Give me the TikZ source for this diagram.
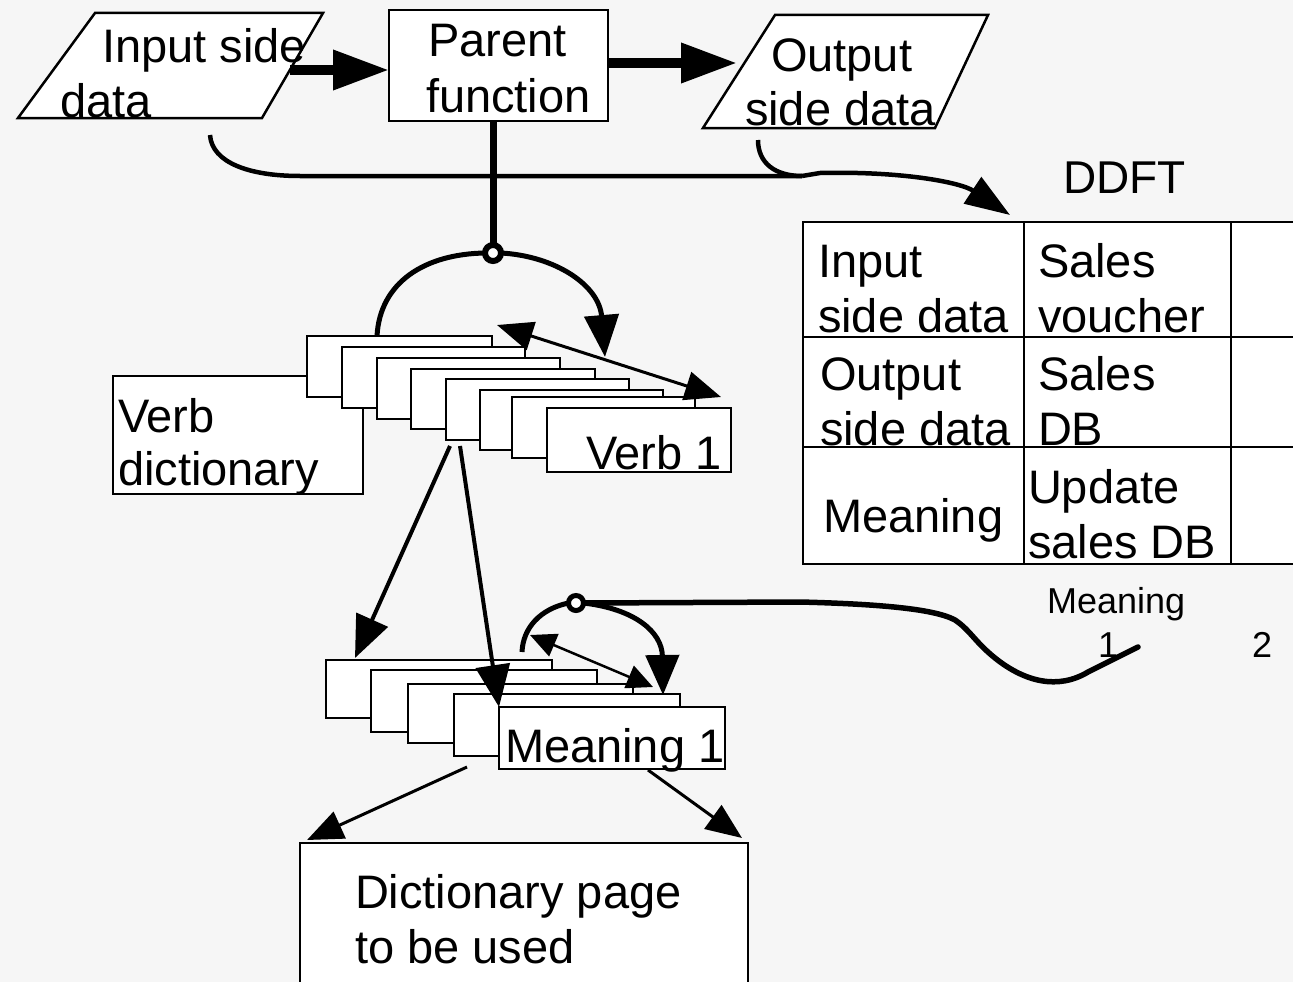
\documentclass[tikz,border=0pt]{standalone}
\usepackage{fontspec}
\setmainfont{Liberation Sans}
\usetikzlibrary{arrows.meta}
\begin{document}
\begin{tikzpicture}[x=1pt,y=-1pt,
  txt/.style={inner sep=0pt, outer sep=0pt, anchor=base west, font=\fontsize{47}{51}\selectfont},
  smalltxt/.style={inner sep=0pt, outer sep=0pt, anchor=base west, font=\fontsize{36}{40}\selectfont},
  frame/.style={draw=black, fill=white, line width=2.5pt, line join=miter},
  sheet/.style={draw=black, fill=white, line width=2.5pt, anchor=north west, inner sep=0pt, outer sep=0pt},
  hub/.style={circle, draw=black, fill=white, line width=6pt, minimum size=16pt, inner sep=0pt, outer sep=0pt},
  tipA/.tip={Triangle[length=56pt,width=38pt]},
  tipB/.tip={Triangle[length=42pt,width=34pt]},
  tipC/.tip={Triangle[length=36pt,width=29pt]},
  tipD/.tip={Triangle[length=26pt,width=24pt]},
  flowline/.style={line width=10pt, -{tipA}},
  feedline/.style={line width=4.5pt},
  arcline/.style={line width=5pt},
  linkline/.style={line width=4pt, -{tipB}},
  pickline/.style={line width=3pt, -{tipC}},
  bothway/.style={line width=3pt, {tipC}-{tipC}},
]
\useasboundingbox (0,0) rectangle (1293,982);
\fill[gray!7] (0,0) rectangle (1293,982);

% ---------- top row: input data, parent function, output data ----------
\draw[frame] (95,13) -- (323,13) -- (262,118) -- (18,118) -- cycle;
\node[txt] (inpA) at (102,63) {Input side};
\node[txt] (inpB) at (60,117) {data};
\coordinate (inpR) at (290,70);

\node[frame, minimum width=219pt, minimum height=111pt, inner sep=0pt, outer sep=0pt] (par) at (498.5,65.5) {};
\node[txt] (parA) at (428,57) {Parent};
\node[txt] (parB) at (426,112) {function};

\draw[frame] (775,15) -- (988,15) -- (935,128) -- (703,128) -- cycle;
\node[txt] (outA) at (771,72) {Output};
\node[txt] (outB) at (745,125) {side data};
\coordinate (outL) at (737,63);

\draw[flowline] (inpR) -- (inpR -| par.west);
\draw[flowline] (par.east |- outL) -- (outL);

% ---------- data feed into the table ----------
\coordinate (inHook) at (210,135);
\coordinate (outHook) at (758,140);
\coordinate (joint) at (802,176);
\coordinate (ddftIn) at (1010,215);
\draw[feedline] (inHook) .. controls (212,163) and (250,176) .. (300,176) -- (joint);
\draw[feedline] (outHook) .. controls (758,163) and (775,176) .. (joint);
\draw[feedline, -{Triangle[length=45pt,width=31pt]}] (joint) -- (820,173) .. controls (900,171) and (960,182) .. (ddftIn);

% ---------- DDFT table ----------
\node[txt, font=\fontsize{46}{50}\selectfont] (ddft) at (1063,193) {DDFT};
\begin{scope}[line width=2.5pt]
  \fill[white] (803,222) rectangle (1300,564);
  \draw (1300,222) -- (803,222) -- (803,564) -- (1300,564);
  \draw (1024,222) -- (1024,564);
  \draw (1231,222) -- (1231,564);
  \draw (803,337) -- (1300,337);
  \draw (803,447) -- (1300,447);
\end{scope}
\node[txt] (t11a) at (818,277) {Input};
\node[txt] (t11b) at (818,332) {side data};
\node[txt] (t12a) at (1038,277) {Sales};
\node[txt] (t12b) at (1038,332) {voucher};
\node[txt] (t21a) at (820,390) {Output};
\node[txt] (t21b) at (820,445) {side data};
\node[txt] (t22a) at (1038,390) {Sales};
\node[txt] (t22b) at (1038,445) {DB};
\node[txt] (t31) at (823,532) {Meaning};
\node[txt] (t32a) at (1028,503) {Update};
\node[txt] (t32b) at (1028,558) {sales DB};

% ---------- verb dictionary ----------
\node[sheet, minimum width=250pt, minimum height=118pt] (vd) at (113,376) {};
\node[sheet, minimum width=185pt, minimum height=61pt] (v1) at (307,336) {};
\node[sheet, minimum width=183pt, minimum height=61pt] (v2) at (342,347) {};
\node[sheet, minimum width=183pt, minimum height=61pt] (v3) at (377,358) {};
\node[sheet, minimum width=184pt, minimum height=60pt] (v4) at (411,369) {};
\node[sheet, minimum width=183pt, minimum height=61pt] (v5) at (446,379) {};
\node[sheet, minimum width=183pt, minimum height=60pt] (v6) at (480,390) {};
\node[sheet, minimum width=183pt, minimum height=61pt] (v7) at (512,397) {};
\node[sheet, minimum width=184pt, minimum height=64pt] (v8) at (547,408) {};
\node[txt] (vdA) at (118,432) {Verb};
\node[txt] (vdB) at (118,485) {dictionary};
\node[txt] (v8t) at (586,469) {Verb 1};

% selector on the verb pages
\node[hub] (c1) at (493,253) {};
\coordinate (stemTop) at (493,121);
\draw[line width=7pt] (stemTop) -- (c1.north);
\coordinate (vArcL) at (377,336);
\coordinate (vArcR) at (605,357);
\draw[arcline] (vArcL) .. controls (380,282) and (425,254) .. (c1.west);
\draw[arcline, -{tipB}] (c1.east) .. controls (555,256) and (599,285) .. (vArcR);
\coordinate (vRngL) at (497,325);
\coordinate (vRngR) at (721,397);
\draw[bothway] (vRngL) -- (vRngR);

% ---------- meaning pages ----------
\node[sheet, minimum width=226pt, minimum height=58pt] (m1) at (326,660) {};
\node[sheet, minimum width=226pt, minimum height=62pt] (m2) at (371,670) {};
\node[sheet, minimum width=225pt, minimum height=59pt] (m3) at (408,684) {};
\node[sheet, minimum width=226pt, minimum height=62pt] (m4) at (454,694) {};
\node[sheet, minimum width=226pt, minimum height=62pt] (m5) at (499,707) {};
\node[txt] (m5t) at (505,762) {Meaning 1};

\coordinate (vOut1) at (450,446);
\coordinate (vOut2) at (460,446);
\coordinate (mIn1) at (355,658);
\draw[linkline] (vOut1) -- (mIn1);
\draw[linkline] (vOut2) -- (m5.north west);

% selector on the meaning pages
\node[hub, line width=5pt, minimum size=15pt] (c2) at (576,603) {};
\coordinate (mArcL) at (522,652);
\coordinate (mArcR) at (663,695);
\draw[arcline] (c2.west) .. controls (540,609) and (523,628) .. (mArcL);
\draw[arcline, -{Triangle[length=40pt,width=33pt]}] (c2.east) .. controls (635,609) and (662,632) .. (mArcR);
\coordinate (mRngL) at (530,635);
\coordinate (mRngR) at (653,687);
\draw[line width=2.5pt, {tipD}-{tipD}] (mRngL) -- (mRngR);

\coordinate (wigEnd) at (1138,647);
\draw[line width=5.5pt, line cap=round] (c2.east) -- (800,602)
  .. controls (880,604) and (935,609) .. (955,620)
  .. controls (970,630) and (975,642) .. (995,658)
  .. controls (1025,682) and (1058,690) .. (1088,672) -- (wigEnd);
\node[smalltxt] (mLbl) at (1047,613) {Meaning};
\node[smalltxt] (mOne) at (1098,657) {1};
\node[smalltxt] (mTwo) at (1252,657) {2};

% ---------- dictionary page to be used ----------
\node[sheet, minimum width=448pt, minimum height=160pt] (dp) at (300,843) {};
\node[txt] (dpA) at (355,908) {Dictionary page};
\node[txt] (dpB) at (355,963) {to be used};
\coordinate (mOut1) at (467,767);
\coordinate (mOut2) at (648,770);
\coordinate (dpL) at (307,840);
\coordinate (dpR) at (742,838);
\draw[pickline] (mOut1) -- (dpL);
\draw[pickline] (mOut2) -- (dpR);
\end{tikzpicture}
\end{document}
